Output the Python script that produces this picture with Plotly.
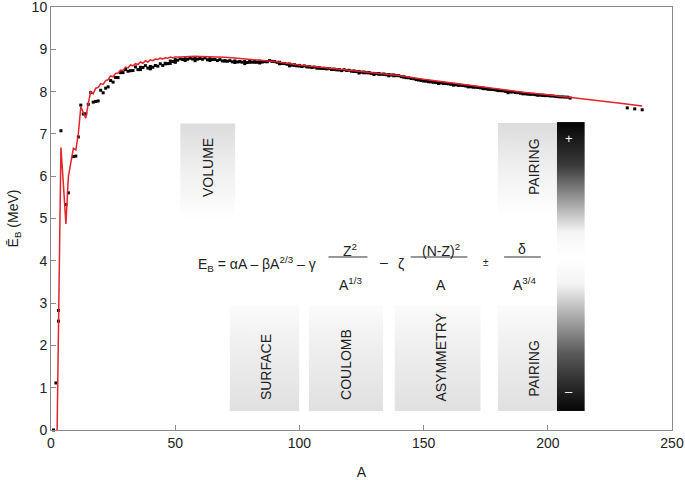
import base64
import plotly.graph_objects as go

# ---- data ----
exp_A = list(range(1, 210)) + [232, 235, 238]
exp_B = [
    0.000, 1.112, 2.573, 7.074, None, 5.332, 5.606, None, 6.463, 6.475,
    6.928, 7.680, 7.470, 7.476, 7.699, 7.976, 7.751, 7.767, 7.779, 8.032,
    7.972, 8.081, 8.112, 8.261, 8.224, 8.334, 8.332, 8.448, 8.449, 8.521,
    8.481, 8.493, 8.498, 8.584, 8.520, 8.520, 8.570, 8.614, 8.557, 8.595,
    8.576, 8.617, 8.601, 8.658, 8.619, 8.656, 8.661, 8.723, 8.711, 8.756,
    8.742, 8.776, 8.760, 8.736, 8.765, 8.790, 8.770, 8.792, 8.768, 8.781,
    8.765, 8.795, 8.752, 8.777, 8.757, 8.760, 8.734, 8.756, 8.725, 8.730,
    8.718, 8.732, 8.705, 8.725, 8.701, 8.711, 8.695, 8.712, 8.688, 8.711,
    8.696, 8.693, 8.693, 8.718, 8.697, 8.712, 8.705, 8.733, 8.714, 8.710,
    8.693, 8.693, 8.664, 8.667, 8.648, 8.654, 8.624, 8.635, 8.608, 8.605,
    8.593, 8.607, 8.584, 8.585, 8.571, 8.580, 8.554, 8.567, 8.548, 8.551,
    8.537, 8.545, 8.523, 8.532, 8.514, 8.523, 8.497, 8.517, 8.499, 8.505,
    8.482, 8.488, 8.472, 8.474, 8.458, 8.463, 8.446, 8.443, 8.431, 8.430,
    8.424, 8.428, 8.410, 8.409, 8.398, 8.402, 8.392, 8.394, 8.378, 8.376,
    8.354, 8.346, 8.330, 8.327, 8.309, 8.304, 8.284, 8.277, 8.263, 8.262,
    8.246, 8.244, 8.229, 8.227, 8.213, 8.215, 8.204, 8.202, 8.189, 8.184,
    8.173, 8.173, 8.162, 8.159, 8.147, 8.142, 8.132, 8.130, 8.115, 8.112,
    8.102, 8.097, 8.087, 8.084, 8.069, 8.064, 8.052, 8.049, 8.039, 8.035,
    8.023, 8.018, 8.006, 8.005, 7.991, 7.990, 7.978, 7.974, 7.963, 7.962,
    7.948, 7.948, 7.934, 7.936, 7.927, 7.926, 7.916, 7.914, 7.905, 7.906,
    7.897, 7.896, 7.887, 7.880, 7.875, 7.875, 7.870, 7.868, 7.848,
    7.615, 7.591, 7.570,
]
# additional stable isobars / isotopes
iso_A = [3, 36, 40, 40, 46, 48, 50, 50, 54, 58, 64, 70, 74, 76, 78, 80, 82,
         84, 86, 87, 92, 94, 96, 96, 98, 100, 104, 108, 110, 113, 114, 116,
         122, 124, 126, 128, 130, 132, 134, 136, 138, 142, 148, 150, 152,
         154, 156, 158, 162, 164, 168, 170, 174, 176, 180, 184, 190, 192,
         196, 198, 204]
iso_B = [2.827, 8.575, 8.551, 8.538, 8.669, 8.666, 8.701, 8.696, 8.778,
         8.732, 8.736, 8.722, 8.688, 8.705, 8.661, 8.693, 8.711, 8.677,
         8.708, 8.711, 8.658, 8.662, 8.609, 8.635, 8.620, 8.619, 8.587,
         8.550, 8.547, 8.527, 8.523, 8.512, 8.478, 8.438, 8.444, 8.449,
         8.406, 8.409, 8.414, 8.373, 8.375, 8.347, 8.280, 8.250, 8.233,
         8.225, 8.192, 8.190, 8.152, 8.149, 8.112, 8.107, 8.069, 8.059,
         8.025, 7.973, 7.947, 7.942, 7.914, 7.912, 7.886]

semf_A = [2, 3, 4, 5, 6, 7, 8, 9, 10, 11, 12, 13, 14, 15, 16, 17, 18, 19,
          20, 21, 22, 23, 24, 25, 26, 27, 28, 29, 30, 31, 32, 33, 34, 35,
          36, 37, 38, 39, 40, 41, 42, 43, 44, 45, 46, 47, 48, 49, 50, 52,
          54, 56, 58, 60, 65, 70, 75, 80, 85, 90, 100, 110, 120, 130, 140,
          150, 160, 170, 180, 190, 200, 210, 220, 230, 238]
semf_B = [-2.0, 1.8, 6.68, 5.80, 4.87, 5.99, 6.38, 6.66, 6.62, 7.00, 7.64,
          7.48, 7.37, 7.72, 8.00, 7.95, 8.08, 8.10, 8.19, 8.17, 8.26, 8.28,
          8.37, 8.35, 8.43, 8.44, 8.51, 8.50, 8.58, 8.56, 8.63, 8.61, 8.66,
          8.64, 8.70, 8.67, 8.73, 8.70, 8.75, 8.73, 8.77, 8.76, 8.79, 8.77,
          8.80, 8.79, 8.815, 8.80, 8.82, 8.82, 8.83, 8.83, 8.835, 8.83,
          8.825, 8.81, 8.79, 8.76, 8.74, 8.71, 8.63, 8.57, 8.51, 8.445,
          8.38, 8.29, 8.21, 8.135, 8.06, 7.985, 7.925, 7.86, 7.80, 7.72,
          7.66]

FONT = "Liberation Sans, Arial, Helvetica, sans-serif"
TXT = "#222222"

fig = go.Figure()
fig.add_trace(go.Scatter(x=exp_A, y=exp_B, mode="markers",
                         marker=dict(symbol="square", size=3, color="black"),
                         cliponaxis=False, showlegend=False))
fig.add_trace(go.Scatter(x=iso_A, y=iso_B, mode="markers",
                         marker=dict(symbol="square", size=3, color="black"),
                         cliponaxis=False, showlegend=False))
fig.add_trace(go.Scatter(x=semf_A, y=semf_B, mode="lines",
                         line=dict(color="#e3242b", width=1.5),
                         showlegend=False))


def grad_uri(stops):
    st = "".join(f'<stop offset="{o}" stop-color="{c}"/>' for o, c in stops)
    svg = ('<svg xmlns="http://www.w3.org/2000/svg" width="10" height="100" '
           'viewBox="0 0 10 100" preserveAspectRatio="none"><defs>'
           '<linearGradient id="g" x1="0" y1="0" x2="0" y2="1">' + st +
           '</linearGradient></defs><rect width="10" height="100" fill="url(#g)"/></svg>')
    return "data:image/svg+xml;base64," + base64.b64encode(svg.encode()).decode()


top_fade = grad_uri([(0, "#dcdcdc"), (0.5, "#f0f0f0"), (1, "#ffffff")])
bot_fade = grad_uri([(0, "#fbfbfb"), (0.35, "#f0f0f0"), (1, "#e0e0e0")])
bar = grad_uri([(0, "#050505"), (0.15, "#3a3a3a"), (0.38, "#f4f4f4"),
                (0.47, "#ffffff"), (0.56, "#f4f4f4"), (0.8, "#5a5a5a"),
                (1, "#050505")])

boxes = [
    (52.0, 74.2, 7.25, 4.96, top_fade),
    (179.8, 203.6, 7.26, 5.08, top_fade),
    (71.9, 100.0, 2.95, 0.45, bot_fade),
    (103.8, 133.7, 2.95, 0.45, bot_fade),
    (138.3, 173.0, 2.95, 0.45, bot_fade),
    (179.8, 203.6, 2.95, 0.45, bot_fade),
    (203.6, 214.9, 7.28, 0.45, bar),
]
images = []
for x0, x1, y1, y0, src in boxes:
    images.append(dict(source=src, xref="x", yref="y", x=x0, y=y1,
                       sizex=x1 - x0, sizey=y1 - y0, sizing="stretch",
                       xanchor="left", yanchor="top", layer="below"))

ann = []


def label(text, x, y, size=14, color=TXT, angle=0, xanchor="center"):
    ann.append(dict(text=text, x=x, y=y, xref="x", yref="y", showarrow=False,
                    textangle=angle, xanchor=xanchor, yanchor="middle",
                    font=dict(family=FONT, size=size, color=color)))


label("VOLUME", 62.9, 6.2, angle=-90)
label("PAIRING", 194.4, 6.24, angle=-90)
label("PAIRING", 194.4, 1.47, angle=-90)
label("SURFACE", 86.6, 1.49, angle=-90)
label("COULOMB", 118.8, 1.54, angle=-90)
label("ASYMMETRY", 156.9, 1.73, angle=-90)
label("+", 208.5, 6.9, size=13, color="white")
label("–", 208.5, 0.9, size=13, color="white")

# formula
label("E<sub>B</sub> = αA – βA<sup>2/3</sup> – γ", 58.3, 3.93, xanchor="left")
label("Z<sup>2</sup>", 120.2, 4.26)
label("A<sup>1/3</sup>", 120.6, 3.44)
label("–", 134.0, 3.96)
label("ζ", 140.7, 3.93)
label("(N-Z)<sup>2</sup>", 156.9, 4.26)
label("A", 156.9, 3.42)
label("±", 175.0, 3.96, size=10)
label("δ", 189.8, 4.28)
label("A<sup>3/4</sup>", 190.7, 3.44)

shapes = []
for x0, x1 in [(111.7, 127.4), (144.8, 167.6), (182.4, 197.2)]:
    shapes.append(dict(type="line", xref="x", yref="y", x0=x0, x1=x1,
                       y0=4.09, y1=4.09, line=dict(color="#333333", width=1)))

axis_common = dict(showline=True, mirror=True, linecolor="#8a8a8a",
                   linewidth=1, ticks="inside", ticklen=5, tickcolor="#8a8a8a",
                   showgrid=False, zeroline=False, ticklabeloverflow="allow",
                   tickfont=dict(family=FONT, size=14, color=TXT))

fig.update_layout(
    width=685, height=480,
    margin=dict(l=51, r=13, t=7, b=50, autoexpand=False),
    plot_bgcolor="white", paper_bgcolor="white",
    xaxis=dict(range=[0, 250], tickvals=[0, 50, 100, 150, 200, 250],
               automargin=False,
               title=dict(text="A", standoff=17,
                          font=dict(family=FONT, size=14, color=TXT)),
               **axis_common),
    yaxis=dict(range=[0, 10], tickvals=list(range(0, 11)),
               automargin=False,
               title=dict(text="Ē<sub>B</sub> (MeV)", standoff=9,
                          font=dict(family=FONT, size=14, color=TXT)),
               **axis_common),
    images=images, annotations=ann, shapes=shapes,
)

fig.write_html("out.html", config={"displayModeBar": False},
               post_script="document.body.style.margin='0';")
